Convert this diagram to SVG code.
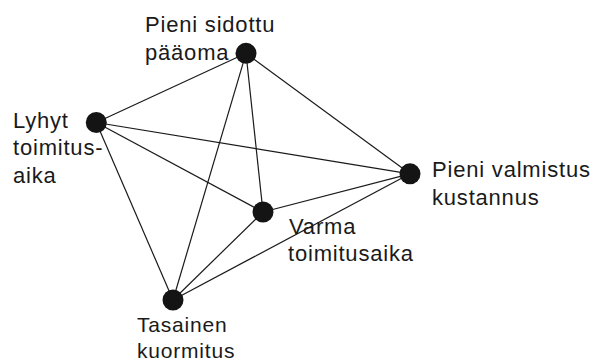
<svg xmlns="http://www.w3.org/2000/svg" width="591" height="363" viewBox="0 0 591 363">
<style>
.e{stroke:#1a1a1a;stroke-width:1.2;fill:none}
.n{fill:#141414}
.t{font-family:"Liberation Sans",Arial,sans-serif;font-size:22px;letter-spacing:0.8px;fill:#1a1a1a}
</style>
<rect width="591" height="363" fill="#fff"/>
<g id="connectors">
<line class="e" x1="246" y1="53.3" x2="96.3" y2="122.5"/>
<line class="e" x1="246" y1="53.3" x2="410" y2="173.8"/>
<line class="e" x1="246" y1="53.3" x2="263" y2="212"/>
<line class="e" x1="246" y1="53.3" x2="173" y2="300"/>
<line class="e" x1="96.3" y1="122.5" x2="410" y2="173.8"/>
<line class="e" x1="96.3" y1="122.5" x2="263" y2="212"/>
<line class="e" x1="96.3" y1="122.5" x2="173" y2="300"/>
<line class="e" x1="410" y1="173.8" x2="263" y2="212"/>
<line class="e" x1="410" y1="173.8" x2="173" y2="300"/>
<line class="e" x1="263" y1="212" x2="173" y2="300"/>
</g>
<g id="pieni-sidottu-paaoma">
<circle class="n" cx="246" cy="53.3" r="10.5"/>
<text class="t" x="145" y="32.3">Pieni sidottu</text>
<text class="t" x="145" y="60">pääoma</text>
</g>
<g id="lyhyt-toimitusaika">
<circle class="n" cx="96.3" cy="122.5" r="10.5"/>
<text class="t" x="13" y="127.5">Lyhyt</text>
<text class="t" x="13" y="155">toimitus-</text>
<text class="t" x="13" y="182.5">aika</text>
</g>
<g id="pieni-valmistuskustannus">
<circle class="n" cx="410" cy="173.8" r="10.5"/>
<text class="t" x="432" y="177">Pieni valmistus</text>
<text class="t" x="432" y="204.5">kustannus</text>
</g>
<g id="varma-toimitusaika">
<circle class="n" cx="263" cy="212" r="10.5"/>
<text class="t" x="289" y="233.5">Varma</text>
<text class="t" x="288" y="261">toimitusaika</text>
</g>
<g id="tasainen-kuormitus">
<circle class="n" cx="173" cy="300" r="10.5"/>
<text class="t" x="137" y="332" style="font-size:21px">Tasainen</text>
<text class="t" x="137" y="357.5" style="font-size:21px">kuormitus</text>
</g>
</svg>
